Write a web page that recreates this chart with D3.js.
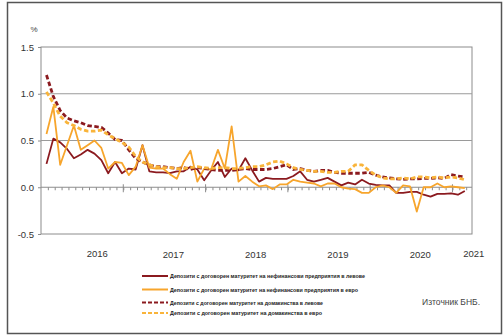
<!DOCTYPE html>
<html><head><meta charset="utf-8">
<script src="https://cdn.jsdelivr.net/npm/d3@7"></script>
<style>
body{margin:0;background:#fff;}
svg{display:block;font-family:"Liberation Sans",Arial,sans-serif;}
</style></head>
<body><svg id="c" width="503" height="336"></svg>
<script>
// Monthly data, Jan 2016 – Feb 2021 (%)
const months = d3.range(62).map(i => new Date(2016, i, 1));
const years = ["2016","2017","2018","2019","2020","2021"];
const yTicks = [-0.5, 0.0, 0.5, 1.0, 1.5];

const nfcBgn = [0.25,0.52,0.48,0.41,0.31,0.35,0.40,0.36,0.29,0.15,0.27,0.15,
  0.20,0.19,0.45,0.17,0.16,0.16,0.15,0.17,0.17,0.22,0.19,0.075,
  0.18,0.27,0.11,0.20,0.18,0.31,0.18,0.06,0.10,0.09,0.09,0.09,
  0.12,0.17,0.08,0.06,0.08,0.10,0.06,0.02,0.05,0.03,0.08,0.04,
  0.025,0.02,0.02,-0.06,-0.06,-0.05,-0.05,-0.08,-0.10,-0.07,-0.07,-0.065,
  -0.08,-0.04];
const nfcEur = [0.57,0.86,0.24,0.45,0.66,0.40,0.45,0.50,0.42,0.20,0.27,0.26,
  0.13,0.22,0.45,0.21,0.20,0.20,0.14,0.09,0.27,0.39,0.06,0.20,
  0.19,0.40,0.20,0.65,0.06,0.12,0.06,0.01,0.02,-0.02,0.03,0.03,
  0.08,0.06,0.05,0.04,0.01,0.04,0.04,0.00,-0.015,-0.02,-0.06,-0.06,
  0.00,0.02,0.00,-0.06,0.02,0.01,-0.26,0.00,0.00,0.04,0.00,0.01,
  0.00,-0.01];
const hhBgn = [1.20,0.97,0.82,0.74,0.71,0.69,0.66,0.65,0.64,0.58,0.51,0.50,
  0.40,0.31,0.27,0.24,0.22,0.22,0.21,0.20,0.21,0.19,0.21,0.20,
  0.19,0.18,0.18,0.18,0.19,0.20,0.19,0.19,0.19,0.20,0.22,0.24,
  0.19,0.20,0.18,0.17,0.18,0.18,0.16,0.15,0.15,0.15,0.15,0.16,
  0.13,0.11,0.10,0.09,0.085,0.09,0.09,0.095,0.095,0.10,0.095,0.135,
  0.12,0.11];
const hhEur = [1.02,0.90,0.76,0.69,0.66,0.62,0.60,0.60,0.61,0.56,0.52,0.48,
  0.43,0.33,0.27,0.24,0.22,0.21,0.21,0.20,0.20,0.21,0.22,0.21,
  0.20,0.21,0.21,0.20,0.20,0.21,0.22,0.22,0.24,0.27,0.28,0.25,
  0.21,0.19,0.18,0.17,0.17,0.16,0.16,0.17,0.17,0.24,0.24,0.18,
  0.13,0.10,0.09,0.09,0.10,0.09,0.11,0.11,0.10,0.11,0.10,0.11,
  0.10,0.08];

const seriesNames = [
  "Депозити с договорен  матуритет на нефинансови предприятия  в левове",
  "Депозити с договорен  матуритет на нефинансови предприятия  в евро",
  "Депозити с договорен  матуритет на домакинства в левове",
  "Депозити с договорен  матуритет на домакинства в евро"
];
const seriesData = [nfcBgn, nfcEur, hhBgn, hhEur];
const colors = ["#8b1a1f", "#f7a52c", "#8b1a1f", "#f9b43a"];
const dashed = [false, false, true, true];
const widths = [1.8, 1.8, 2.8, 2.8];
const legendWidths = [195, 188, 153, 152];

const svg = d3.select("#c");
const L = 41, R = 472, T = 47, B = 234;

// outer frame
svg.append("rect").attr("x",7.5).attr("y",2.5).attr("width",494).attr("height",331)
  .attr("fill","none").attr("stroke","#555").attr("stroke-width",1.5);

// scales: x in months since Jan 2016
const x = d3.scaleLinear().domain([0, 62.85]).range([L, R]);
const y = d3.scaleLinear().domain([-0.5, 1.5]).range([B, T]);
const px = i => x(i + 0.8);

// plot box
svg.append("rect").attr("x",L).attr("y",T).attr("width",R-L).attr("height",B-T)
  .attr("fill","none").attr("stroke","#8c8c8c").attr("stroke-width",1);

// gridlines
svg.append("g").selectAll("line").data([0.5,1.0]).join("line")
  .attr("x1",L).attr("x2",R).attr("y1",d=>y(d)).attr("y2",d=>y(d))
  .attr("stroke","#9a9a9a").attr("stroke-width",1.2);

// y axis
const yAxis = d3.axisLeft(y).tickValues(yTicks).tickFormat(d3.format(".1f")).tickSize(3).tickPadding(4);
const gy = svg.append("g").attr("transform",`translate(${L},0)`).call(yAxis);
gy.select(".domain").remove();
gy.selectAll("line").attr("stroke","#8c8c8c");
gy.selectAll("text").attr("font-size",9.5).attr("fill","#333")
  .text(d => d < 0 ? "-" + Math.abs(d).toFixed(1) : d.toFixed(1));
svg.append("text").attr("x",34).attr("y",32).attr("font-size",8).attr("fill","#444")
  .attr("text-anchor","middle").text("%");

// zero axis with month ticks
svg.append("line").attr("x1",L).attr("x2",R).attr("y1",y(0)).attr("y2",y(0))
  .attr("stroke","#8c8c8c").attr("stroke-width",1.2);
const xAxis = d3.axisBottom(x).tickValues(d3.range(1,63)).tickSize(3).tickFormat("");
const gx = svg.append("g").attr("transform",`translate(0,${y(0)})`).call(xAxis);
gx.select(".domain").remove();
gx.selectAll("line").attr("stroke","#8c8c8c");
svg.append("g").selectAll("line").data([12,24,36,48,60]).join("line")
  .attr("x1",d=>x(d)).attr("x2",d=>x(d)).attr("y1",y(0)-3).attr("y2",y(0)+5)
  .attr("stroke","#8c8c8c");

// year labels
const yearPos = (s, i) => i === 0 ? x(8.2) : (i === years.length-1 ? x(63.1) : x(12*i + 7.3));
svg.append("g").selectAll("text").data(years).join("text")
  .attr("x",(d,i)=>yearPos(d,i)).attr("y",(d,i)=> (i===0||i===5) ? 256.5 : 257.5)
  .attr("text-anchor","middle").attr("font-size",9.5).attr("fill","#333").text(d=>d);

// lines
const line = d3.line().x((d,i)=>px(i)).y(d=>y(d));
seriesData.forEach((s,k) => {
  svg.append("path").datum(s).attr("d",line).attr("fill","none")
    .attr("stroke",colors[k]).attr("stroke-width",widths[k])
    .attr("stroke-linejoin","round")
    .attr("stroke-dasharray", dashed[k] ? "4.5,2.5" : null);
});

// legend
const legY = [276, 289.5, 302.5, 313];
const lg = svg.append("g");
seriesNames.forEach((n,k) => {
  lg.append("line").attr("x1",142).attr("x2",168).attr("y1",legY[k]).attr("y2",legY[k])
    .attr("stroke",colors[k]).attr("stroke-width",dashed[k]?2:2)
    .attr("stroke-dasharray", dashed[k] ? "4,2" : null);
  lg.append("text").attr("x",170).attr("y",legY[k]+2).attr("font-size",5.6)
    .attr("font-weight","bold").attr("fill","#222")
    .attr("textLength",legendWidths[k]).attr("lengthAdjust","spacingAndGlyphs").text(n);
});

svg.append("text").attr("x",480).attr("y",304.5).attr("text-anchor","end")
  .attr("font-size",8.5).attr("fill","#444").text("Източник БНБ.");
</script></body></html>
